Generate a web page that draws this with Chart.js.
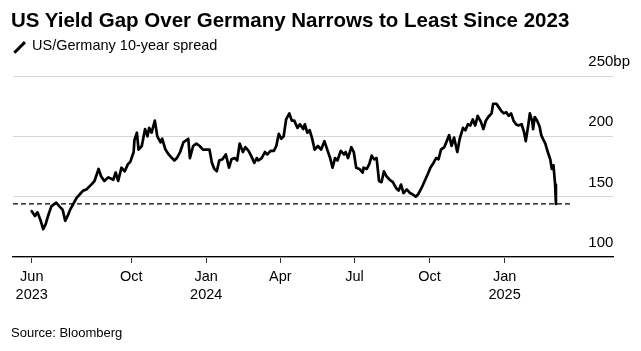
<!DOCTYPE html>
<html><head><meta charset="utf-8">
<script src="https://cdn.jsdelivr.net/npm/chart.js@4.4.1/dist/chart.umd.min.js"></script>
<style>
html,body{margin:0;padding:0;background:#fff;}
body{width:641px;height:351px;position:relative;overflow:hidden;font-family:"Liberation Sans",Arial,sans-serif;color:#000;}
#title{position:absolute;left:11px;top:10px;font-size:20.5px;line-height:20px;font-weight:bold;white-space:nowrap;}
#legend{position:absolute;left:32px;top:38px;font-size:14.5px;line-height:14.5px;white-space:nowrap;}
#icon{position:absolute;left:12px;top:46px;width:15px;height:2.6px;background:#000;transform:rotate(-45deg);}
#source{position:absolute;left:11px;top:326px;font-size:13px;line-height:13px;}
#c{position:absolute;left:0;top:0;}
</style></head>
<body>
<canvas id="c" width="641" height="351"></canvas>
<div id="title">US Yield Gap Over Germany Narrows to Least Since 2023</div>
<div id="icon"></div>
<div id="legend">US/Germany 10-year spread</div>
<div id="source">Source: Bloomberg</div>
<script>
const seriesName = 'US/Germany 10-year spread';
const seriesDates = [
'2023-06-01','2023-06-05','2023-06-08','2023-06-12','2023-06-15','2023-06-18','2023-06-21','2023-06-25',
'2023-07-01','2023-07-05','2023-07-09','2023-07-12','2023-07-15','2023-07-18','2023-07-22','2023-07-26','2023-07-30',
'2023-08-03','2023-08-07','2023-08-13','2023-08-17','2023-08-22','2023-08-25','2023-08-29',
'2023-09-03','2023-09-09','2023-09-12','2023-09-15','2023-09-19','2023-09-23','2023-09-27','2023-09-30',
'2023-10-04','2023-10-05','2023-10-08','2023-10-10','2023-10-14','2023-10-18','2023-10-21','2023-10-23','2023-10-26','2023-10-30',
'2023-11-02','2023-11-06','2023-11-08','2023-11-12','2023-11-16','2023-11-20','2023-11-23','2023-11-26','2023-11-30',
'2023-12-04','2023-12-10','2023-12-12','2023-12-16','2023-12-20','2023-12-24','2023-12-28',
'2024-01-01','2024-01-05','2024-01-08','2024-01-11','2024-01-14','2024-01-17','2024-01-21','2024-01-25','2024-01-29',
'2024-02-01','2024-02-05','2024-02-08','2024-02-11','2024-02-15','2024-02-18','2024-02-22','2024-02-25','2024-02-29',
'2024-03-03','2024-03-05','2024-03-09','2024-03-13','2024-03-16','2024-03-20','2024-03-24','2024-03-27','2024-03-30',
'2024-04-02','2024-04-05','2024-04-08','2024-04-12','2024-04-15','2024-04-18','2024-04-22','2024-04-25','2024-04-29',
'2024-05-01','2024-05-04','2024-05-07','2024-05-10','2024-05-13','2024-05-17','2024-05-21','2024-05-25','2024-05-29',
'2024-06-01','2024-06-04','2024-06-07','2024-06-10','2024-06-14','2024-06-18','2024-06-20','2024-06-23','2024-06-27','2024-06-30',
'2024-07-03','2024-07-07','2024-07-11','2024-07-12','2024-07-16','2024-07-19','2024-07-22','2024-07-25','2024-07-28','2024-07-31',
'2024-08-03','2024-08-06','2024-08-09','2024-08-13','2024-08-17','2024-08-21','2024-08-24','2024-08-27','2024-08-30',
'2024-09-03','2024-09-07','2024-09-10','2024-09-14','2024-09-17','2024-09-21','2024-09-25','2024-09-29',
'2024-10-02','2024-10-05','2024-10-09','2024-10-12','2024-10-15','2024-10-19','2024-10-22','2024-10-25','2024-10-28','2024-10-31',
'2024-11-04','2024-11-07','2024-11-11','2024-11-14','2024-11-17','2024-11-20','2024-11-23','2024-11-26','2024-11-29',
'2024-12-03','2024-12-06','2024-12-09','2024-12-12','2024-12-16','2024-12-18','2024-12-22','2024-12-25','2024-12-28','2024-12-31',
'2025-01-03','2025-01-06','2025-01-09','2025-01-12','2025-01-15','2025-01-18','2025-01-22','2025-01-25','2025-01-27','2025-01-30',
'2025-02-01','2025-02-04','2025-02-05','2025-02-07','2025-02-10','2025-02-13','2025-02-15','2025-02-17','2025-02-20','2025-02-23','2025-02-26','2025-02-28',
'2025-03-02','2025-03-04','2025-03-05'
];
const spreadBp = [
138,134,137,130,123,127,134,142,
145,142,139,130,134,139,144,149,152,
155,156,160,163,173,167,163,
166,164,170,163,174,171,177,179,
187,197,203,189,192,206,200,207,203,213,
200,195,198,189,185,182,180,182,187,
195,198,182,192,194,192,189,
189,189,178,173,171,180,181,185,174,
181,182,180,194,187,191,188,184,178,
182,180,182,187,185,188,188,192,202,
198,200,214,219,213,213,207,210,206,
210,203,205,198,189,192,189,196,188,
182,174,182,180,188,185,187,182,191,187,
174,173,170,174,173,177,184,181,182,163,
162,171,167,164,162,157,155,160,153,
156,153,152,150,152,157,163,169,
174,177,182,181,189,191,196,201,192,199,
187,198,207,205,210,209,214,209,217,
212,206,213,216,219,227,227,224,221,219,
220,217,219,213,210,209,210,203,196,209,
219,212,206,216,213,208,201,198,194,187,181,173,
176,160,144
];
const referenceLevel = 144;
const referenceDates = ['2023-05-09','2025-03-25'];
const xRangeDates = ['2023-05-09','2025-05-14'];
const tickDates = ['2023-06-01','2023-10-01','2024-01-01','2024-04-01','2024-07-01','2024-10-01','2025-01-01'];
const tickLabels = [['Jun','2023'],['Oct'],['Jan','2024'],['Apr'],['Jul'],['Oct'],['Jan','2025']];
const yTickValues = [100,150,200,250];
const yUnit = 'bp';

const DAY = 86400000;
const ORIGIN = Date.UTC(2023,5,1);
function dayOf(s){const p=s.split('-').map(Number);return (Date.UTC(p[0],p[1]-1,p[2])-ORIGIN)/DAY;}

const seriesPoints = seriesDates.map((d,i)=>({x:dayOf(d),y:spreadBp[i]}));
const refPoints = referenceDates.map(d=>({x:dayOf(d),y:referenceLevel}));
const FONT = '"Liberation Sans", Arial, sans-serif';

new Chart(document.getElementById('c'), {
  type:'line',
  data:{datasets:[
    {label:seriesName,data:seriesPoints,borderColor:'#000',borderWidth:2.7,pointRadius:0,tension:0,borderJoinStyle:'round',borderCapStyle:'round',order:1},
    {label:'reference',data:refPoints,borderColor:'#000',borderWidth:1.4,borderDash:[5,3],pointRadius:0,tension:0,order:2}
  ]},
  options:{
    responsive:false,animation:false,
    layout:{padding:{left:13,top:76,right:0,bottom:0}},
    plugins:{legend:{display:false},tooltip:{enabled:false},title:{display:false}},
    scales:{
      x:{type:'linear',position:'bottom',min:dayOf(xRangeDates[0]),max:dayOf(xRangeDates[1]),
        afterBuildTicks:s=>{s.ticks=tickDates.map(d=>({value:dayOf(d)}));},
        afterFit:s=>{s.height=94;},
        grid:{display:true,drawOnChartArea:false,drawTicks:true,tickLength:6,color:'#333',lineWidth:1},
        border:{display:true,color:'#000',width:1.3},
        ticks:{autoSkip:false,maxRotation:0,minRotation:0,padding:5,color:'#000',
          font:{family:FONT,size:14.5,lineHeight:1.25},
          callback:(v,i)=>tickLabels[i]}
      },
      y:{type:'linear',position:'right',min:yTickValues[0],max:yTickValues[yTickValues.length-1],
        afterBuildTicks:s=>{s.ticks=yTickValues.map(v=>({value:v}));},
        afterFit:s=>{s.width=28;},
        grid:{display:true,drawTicks:false,color:'#d6d6d6',lineWidth:1},
        border:{display:false},
        ticks:{mirror:true,padding:17,labelOffset:-14,color:'#000',crossAlign:'far',
          font:{family:FONT,size:15},
          callback:(v)=> v===yTickValues[yTickValues.length-1] ? v+yUnit : String(v)}
      }
    }
  }
});
</script>
</body></html>
